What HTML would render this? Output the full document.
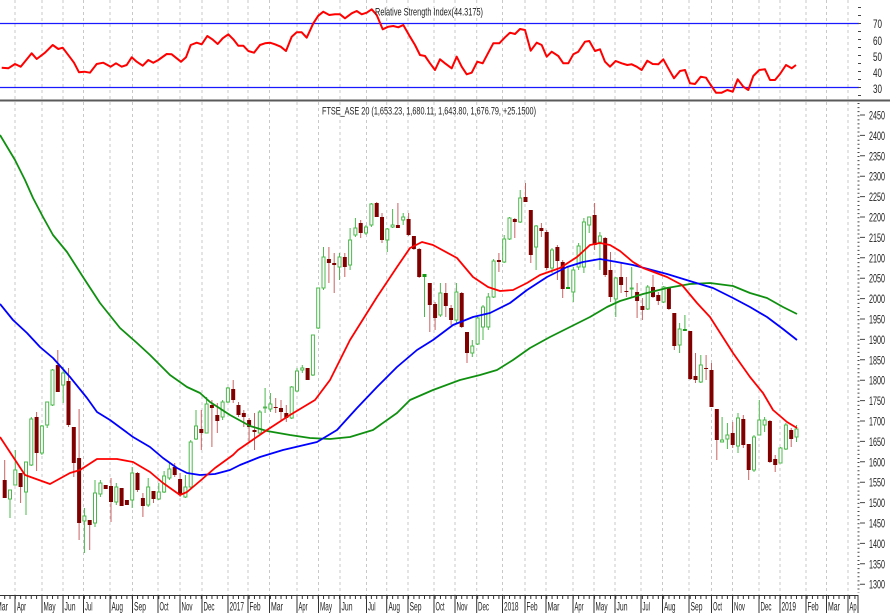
<!DOCTYPE html>
<html><head><meta charset="utf-8"><style>
html,body{margin:0;padding:0;background:#fff;}
svg{display:block;}
text{font-family:"Liberation Sans",Arial,sans-serif;fill:#222;}
</style></head><body>
<svg width="890" height="614" viewBox="0 0 890 614" xmlns="http://www.w3.org/2000/svg">
<rect width="890" height="614" fill="#fff"/>
<!-- vertical dashed gridlines -->
<g stroke="#c8c8c8" stroke-width="1" stroke-dasharray="3,3">
<path d="M15,0V595M42,0V595M63,0V595M83.5,0V595M110,0V595M132.5,0V595M158,0V595M180,0V595M202,0V595M228,0V595M248,0V595M269.5,0V595M297,0V595M318.5,0V595M340,0V595M366.5,0V595M386.7,0V595M408,0V595M434,0V595M455,0V595M476.7,0V595M502.5,0V595M525,0V595M546,0V595M573,0V595M594,0V595M615,0V595M641,0V595M662.5,0V595M689,0V595M711.5,0V595M732.5,0V595M759,0V595M780,0V595M806,0V595M826.5,0V595M848,0V595"/>
</g>
<!-- RSI panel -->
<path d="M0,23.5H859M0,87.5H859" stroke="#1a1aff" stroke-width="1.3" fill="none"/>
<polyline fill="none" stroke="#ff0000" stroke-width="2" stroke-linejoin="round" points="1.7,67.7 8.3,68.3 15,64 20.7,66.7 31.7,53.3 36.7,59 45,52.7 52.7,45 58.3,49 62.7,47.7 70,57.3 74,62.7 79,72.3 84.3,71.7 90,72.7 96.7,64 103.3,62.7 110.7,66.7 116,63.3 121.7,66.7 126.7,65 131.7,57.3 136.7,61.7 142.7,65.7 148.3,60 153.3,62.7 158.3,60 166.7,54 171.7,54.3 176.7,58.3 181,61.7 186,57.3 190.7,45 196.7,42.7 201.7,44.3 207.3,36 212.3,39.3 217.7,44 222.7,38.3 228.3,34.3 233.3,39.3 238.3,45.7 243.3,45.7 248.3,51 254,52.7 260,45 265,43.3 270,42.7 275,44.3 280.7,46.7 286,51 291.7,36.7 296.7,32.3 301.7,32.3 306.7,37.7 313.3,23.3 318.3,15.7 323.3,11.7 329.3,15 335,14.3 340,14.3 345,18.3 351.7,13.3 356.7,11 361.7,14.3 366.7,12.7 371.7,9.3 376.7,15 382.7,29.3 388.3,26.7 393.3,26 398.3,27.3 403.3,25 410,36.7 415,45 420,55 425,56 430,63.3 435,70 440,59.3 445,63.3 451.7,68.3 456.7,56.7 461.7,66.7 466.7,74.3 471.7,72.7 477.3,61.7 482.7,63.3 488.3,52.7 493.3,43.3 499.3,43.3 505,37.3 510,32.7 515,34 520,29 525,30 530.7,50.7 536.7,42.7 541.7,45 546.7,56.7 551.7,51.7 558.3,56 563.3,63.3 568.3,63.3 573.3,54.3 578.3,51.7 585,41.7 589.3,41 595,51 600,49.3 605,61.7 610,66.7 615.7,61 621.7,63.3 627.3,65 631.7,64.3 636.7,66.7 641.7,70 647.3,60.7 652.7,64 658.3,64.3 663.3,59.3 668.3,68.3 674,78.3 680,71 685,70 690,83.3 695,84 700.7,76.7 706,77.7 710.7,85 716,92.7 721.7,92.7 727.3,90 732.7,91.7 737.7,79.3 743.3,86.7 748.3,90 753.3,76 759.3,70 765,69.3 770,80 775,80 780,74 786,65 791.7,68.3 796,65"/>
<text x="375" y="15.5" font-size="11" textLength="108" lengthAdjust="spacingAndGlyphs">Relative Strength Index(44.3175)</text>
<!-- RSI axis -->
<path d="M859.5,7V97" stroke="#444" stroke-width="3" stroke-dasharray="1,7" fill="none"/>
<g font-size="12">
<text x="873" y="28.2" textLength="9" lengthAdjust="spacingAndGlyphs">70</text>
<text x="873" y="45.2" textLength="9" lengthAdjust="spacingAndGlyphs">60</text>
<text x="873" y="61.2" textLength="9" lengthAdjust="spacingAndGlyphs">50</text>
<text x="873" y="77.2" textLength="9" lengthAdjust="spacingAndGlyphs">40</text>
<text x="873" y="93.2" textLength="9" lengthAdjust="spacingAndGlyphs">30</text>
</g>
<!-- separator -->
<path d="M0,100.5H890" stroke="#5a5a5a" stroke-width="2"/>
<text x="322" y="114.5" font-size="11" textLength="214" lengthAdjust="spacingAndGlyphs">FTSE_ASE 20 (1,653.23, 1,680.11, 1,643.80, 1,676.79, +25.1500)</text>
<!-- candles -->
<path fill="none" stroke="#c86464" stroke-width="1" d="M4.7,460V498M20.6,473V503M36.6,412V471M57.8,350V392M68.5,368V427M73.8,427V477M79.1,409V540M89.7,520V550M105.7,485V489M111,478V522M121.6,488V506M126.9,500V505M137.5,472V492M142.9,493V517M153.5,491V503M174.7,463V477M180.1,473V497M201.3,410V450M211.9,400V447M217.3,403V433M233.2,380V403M238.5,402V417M243.8,410V427M249.1,418V443M254.5,413V450M275.7,398V413M281,400V420M286.3,405V422M307.6,368V380M328.9,247V283M334.2,253V293M344.8,253V277M360.7,220V238M376.7,202V217M382,213V243M397.9,203V228M408.6,213V236M413.9,236V250M419.2,248V278M429.8,283V332M435.1,302V330M445.8,283V317M451.1,305V325M461.7,292V328M467,332V363M498.9,253V272M514.8,218V238M525.5,183V202M530.8,210V263M541.4,223V237M546.7,230V270M557.4,245V280M562.7,260V298M594.6,203V250M605.2,237V277M610.5,252V302M621.1,263V293M626.4,277V297M637.1,283V318M642.4,298V320M653,275V298M658.3,292V305M668.9,287V310M674.3,313V350M690.2,331V380M695.5,353V383M706.1,355V380M711.5,363V407M716.8,409V460M732.7,422V448M743.3,415V448M748.7,444V480M769.9,420V463M775.2,455V472M791.2,428V447"/>
<path fill="none" stroke="#4cb84c" stroke-width="1" d="M10,490V518M15.3,450V485M26,462V515M31.3,417V466M41.9,425V455M47.2,402V428M52.5,369V406M63.2,367V403M84.4,508V553M95,480V527M100.4,480V497M116.3,483V505M132.2,467V508M148.2,478V507M158.8,483V500M164.1,471V493M169.4,463V480M185.4,475V498M190.7,440V488M196,410V440M206.6,397V433M222.6,400V420M227.9,387V403M259.8,410V434M265.1,388V413M270.4,393V412M291.7,386V419M297,368V392M302.3,365V373M312.9,335V376M318.2,288V329M323.5,247V290M339.5,253V280M350.1,228V270M355.4,218V237M366,225V235M371.4,203V227M387.3,228V252M392.6,209V228M403.2,213V225M424.5,274V317M440.4,283V317M456.4,283V323M472.3,340V357M477.6,317V345M483,305V340M488.3,293V330M493.6,259V298M504.2,235V263M509.5,217V240M520.2,190V223M536.1,225V270M552,248V273M568,267V289M573.3,267V302M578.6,243V270M583.9,218V273M589.2,217V233M599.9,232V270M615.8,277V317M631.7,267V298M647.7,285V310M663.6,286V303M679.6,323V353M684.9,315V331M700.8,355V383M722.1,417V442M727.4,423V449M738,413V453M754,435V472M759.3,400V435M764.6,417V432M780.5,447V463M785.9,423V450M796.5,425V442"/>
<path fill="#800000" d="M2.7,480h4V498h-4zM18.6,473h4V487h-4zM34.6,417h4V453h-4zM55.8,365h4V392h-4zM66.5,381h4V425h-4zM71.8,427h4V463h-4zM77.1,458h4V523h-4zM87.7,520h4V525h-4zM103.7,485h4V489h-4zM109,486h4V502h-4zM119.6,488h4V506h-4zM124.9,500h4V505h-4zM135.5,473h4V490h-4zM140.9,498h4V506h-4zM151.5,491h4V499h-4zM172.7,467h4V475h-4zM178.1,479h4V495h-4zM199.3,429h4V433h-4zM209.9,405h4V408h-4zM215.3,415h4V421h-4zM231.2,389h4V400h-4zM236.5,405h4V415h-4zM241.8,413h4V417h-4zM247.1,420h4V427h-4zM252.5,430h4V432h-4zM273.7,407h4V408h-4zM279,408h4V412h-4zM284.3,413h4V418h-4zM305.6,368h4V380h-4zM326.9,259h4V263h-4zM332.2,263h4V265h-4zM342.8,257h4V267h-4zM358.7,223h4V233h-4zM374.7,203h4V217h-4zM380,217h4V240h-4zM395.9,225h4V228h-4zM406.6,219h4V235h-4zM411.9,236h4V249h-4zM417.2,249h4V277h-4zM427.8,283h4V305h-4zM433.1,304h4V318h-4zM443.8,293h4V306h-4zM449.1,308h4V320h-4zM459.7,293h4V327h-4zM465,332h4V353h-4zM496.9,260h4V262h-4zM512.8,219h4V222h-4zM523.5,197h4V202h-4zM528.8,210h4V255h-4zM539.4,228h4V231h-4zM544.7,232h4V268h-4zM555.4,247h4V261h-4zM560.7,262h4V289h-4zM592.6,215h4V245h-4zM603.2,238h4V275h-4zM608.5,270h4V297h-4zM619.1,277h4V285h-4zM624.4,291h4V292h-4zM635.1,292h4V301h-4zM640.4,306h4V310h-4zM651,287h4V297h-4zM656.3,295h4V301h-4zM666.9,287h4V309h-4zM672.3,313h4V346h-4zM688.2,331h4V379h-4zM693.5,376h4V380h-4zM704.1,368h4V369h-4zM709.5,370h4V407h-4zM714.8,409h4V440h-4zM730.7,433h4V445h-4zM741.3,419h4V445h-4zM746.7,444h4V470h-4zM767.9,421h4V462h-4zM773.2,459h4V465h-4zM789.2,430h4V439h-4z"/>
<path fill="#fff" stroke="#4cb84c" stroke-width="1" d="M8.5,490h3V499h-3zM13.8,470h3V485h-3zM24.5,462h3V492h-3zM29.8,419h3V465h-3zM40.4,426h3V453h-3zM45.7,402h3V425h-3zM51,370h3V405h-3zM61.7,373h3V385h-3zM82.9,516h3V521h-3zM93.5,493h3V523h-3zM98.9,483h3V494h-3zM114.8,487h3V502h-3zM130.7,473h3V500h-3zM146.7,487h3V505h-3zM157.3,492h3V499h-3zM162.6,476h3V492h-3zM167.9,469h3V478h-3zM183.9,487h3V497h-3zM189.2,442h3V487h-3zM194.5,426h3V439h-3zM205.1,404h3V433h-3zM221.1,402h3V417h-3zM226.4,388h3V402h-3zM258.3,412h3V433h-3zM263.6,407h3V408h-3zM268.9,404h3V409h-3zM290.2,387h3V418h-3zM295.5,371h3V391h-3zM300.8,368h3V370h-3zM311.4,335h3V375h-3zM316.7,288h3V328h-3zM322,257h3V288h-3zM338,257h3V267h-3zM348.6,240h3V265h-3zM353.9,228h3V235h-3zM364.5,227h3V233h-3zM369.9,204h3V225h-3zM385.8,229h3V240h-3zM391.1,225h3V227h-3zM401.7,217h3V220h-3zM438.9,293h3V315h-3zM454.9,292h3V320h-3zM470.8,346h3V353h-3zM476.1,318h3V344h-3zM481.5,307h3V327h-3zM486.8,297h3V327h-3zM492.1,261h3V297h-3zM502.7,239h3V262h-3zM508,218h3V239h-3zM518.7,198h3V222h-3zM534.6,226h3V247h-3zM550.5,250h3V268h-3zM571.8,270h3V292h-3zM577.1,246h3V267h-3zM582.4,222h3V267h-3zM587.7,217h3V225h-3zM598.4,236h3V242h-3zM614.3,278h3V299h-3zM630.2,288h3V289h-3zM646.2,287h3V309h-3zM662.1,287h3V302h-3zM678.1,329h3V345h-3zM699.3,365h3V382h-3zM720.6,440h3V442h-3zM725.9,435h3V439h-3zM736.5,418h3V446h-3zM752.5,437h3V470h-3zM757.8,420h3V435h-3zM763.1,420h3V425h-3zM779,448h3V463h-3zM784.4,425h3V449h-3zM795,429h3V437h-3z"/>
<path fill="#129a12" d="M422.5,274h4V277h-4zM566,287h4V289h-4zM682.9,329h4V331h-4z"/>
<!-- moving averages -->
<polyline fill="none" stroke="#109010" stroke-width="1.8" stroke-linejoin="round" points="0,135 15,160 25,180 33,198 43,217 53,235 67,252 83,277 100,303 120,328 137,343 150,355 170,375 187,387 200,393 210,402 230,415 250,426 267,431 290,435 310,438 330,439 350,437 373,430 397,413 410,400 433,390 460,380 480,375 497,370 513,360 530,348 550,337 570,327 590,317 607,307 620,301 643,294 667,288 690,284 710,283 733,286 750,293 767,298 783,307 797,314"/>
<polyline fill="none" stroke="#0000ff" stroke-width="1.8" stroke-linejoin="round" points="0,304 13,320 27,333 40,347 53,358 70,377 87,398 97,412 110,420 133,437 150,447 163,458 177,468 187,473 200,475 215,474 230,470 240,465 260,457 283,450 317,442 337,430 357,408 377,387 397,367 417,350 433,340 453,325 473,317 490,313 510,303 527,290 547,277 567,267 583,262 600,259 617,262 633,265 667,274 693,282 713,288 733,298 750,307 767,317 783,329 797,340"/>
<polyline fill="none" stroke="#ff0000" stroke-width="1.8" stroke-linejoin="round" points="0,437 25,475 50,484 70,473 80,470 97,459 117,459 133,462 150,472 163,483 180,495 187,492 200,481 215,468 233,455 238,450 267,430 290,415 315,400 330,380 350,340 377,297 397,267 410,248 422,242 433,245 457,258 473,277 488,287 500,291 513,290 527,283 540,275 560,268 577,257 590,245 600,243 610,245 620,251 633,262 643,268 667,277 682,285 697,303 710,317 733,353 750,377 763,393 773,410 787,422 797,428"/>
<!-- price axis -->
<path d="M858.5,103V593" stroke="#444" stroke-width="2" stroke-dasharray="1,3.08" fill="none"/>
<path stroke="#444" stroke-width="1" d="M860,115H865M860,135.4H865M860,155.8H865M860,176.2H865M860,196.6H865M860,217H865M860,237.4H865M860,257.8H865M860,278.2H865M860,298.6H865M860,319H865M860,339.4H865M860,359.8H865M860,380.2H865M860,400.6H865M860,421H865M860,441.4H865M860,461.8H865M860,482.2H865M860,502.6H865M860,523H865M860,543.4H865M860,563.8H865M860,584.2H865"/>
<g font-size="12">
<text x="869" y="119.5" textLength="16" lengthAdjust="spacingAndGlyphs">2450</text>
<text x="869" y="139.9" textLength="16" lengthAdjust="spacingAndGlyphs">2400</text>
<text x="869" y="160.3" textLength="16" lengthAdjust="spacingAndGlyphs">2350</text>
<text x="869" y="180.7" textLength="16" lengthAdjust="spacingAndGlyphs">2300</text>
<text x="869" y="201.1" textLength="16" lengthAdjust="spacingAndGlyphs">2250</text>
<text x="869" y="221.5" textLength="16" lengthAdjust="spacingAndGlyphs">2200</text>
<text x="869" y="241.9" textLength="16" lengthAdjust="spacingAndGlyphs">2150</text>
<text x="869" y="262.3" textLength="16" lengthAdjust="spacingAndGlyphs">2100</text>
<text x="869" y="282.7" textLength="16" lengthAdjust="spacingAndGlyphs">2050</text>
<text x="869" y="303.1" textLength="16" lengthAdjust="spacingAndGlyphs">2000</text>
<text x="869" y="323.5" textLength="16" lengthAdjust="spacingAndGlyphs">1950</text>
<text x="869" y="343.9" textLength="16" lengthAdjust="spacingAndGlyphs">1900</text>
<text x="869" y="364.3" textLength="16" lengthAdjust="spacingAndGlyphs">1850</text>
<text x="869" y="384.7" textLength="16" lengthAdjust="spacingAndGlyphs">1800</text>
<text x="869" y="405.1" textLength="16" lengthAdjust="spacingAndGlyphs">1750</text>
<text x="869" y="425.5" textLength="16" lengthAdjust="spacingAndGlyphs">1700</text>
<text x="869" y="445.9" textLength="16" lengthAdjust="spacingAndGlyphs">1650</text>
<text x="869" y="466.3" textLength="16" lengthAdjust="spacingAndGlyphs">1600</text>
<text x="869" y="486.7" textLength="16" lengthAdjust="spacingAndGlyphs">1550</text>
<text x="869" y="507.1" textLength="16" lengthAdjust="spacingAndGlyphs">1500</text>
<text x="869" y="527.5" textLength="16" lengthAdjust="spacingAndGlyphs">1450</text>
<text x="869" y="547.9" textLength="16" lengthAdjust="spacingAndGlyphs">1400</text>
<text x="869" y="568.3" textLength="16" lengthAdjust="spacingAndGlyphs">1350</text>
<text x="869" y="588.7" textLength="16" lengthAdjust="spacingAndGlyphs">1300</text>
</g>
<!-- time axis -->
<path d="M0,595.5H858" stroke="#333" stroke-width="1"/>
<path d="M4.2,597.5H858" stroke="#333" stroke-width="3" stroke-dasharray="1,4.314" fill="none"/>
<path stroke="#333" stroke-width="1" d="M15,595V613M42,595V613M63,595V613M83.5,595V613M110,595V613M132.5,595V613M158,595V613M180,595V613M202,595V613M228,595V613M248,595V613M269.5,595V613M297,595V613M318.5,595V613M340,595V613M366.5,595V613M386.7,595V613M408,595V613M434,595V613M455,595V613M476.7,595V613M502.5,595V613M525,595V613M546,595V613M573,595V613M594,595V613M615,595V613M641,595V613M662.5,595V613M689,595V613M711.5,595V613M732.5,595V613M759,595V613M780,595V613M806,595V613M826.5,595V613M848,595V613M858,595V613"/>
<g font-size="12">
<text x="-4" y="610.5" textLength="12" lengthAdjust="spacingAndGlyphs">Mar</text>
<text x="17" y="610.5" textLength="9" lengthAdjust="spacingAndGlyphs">Apr</text>
<text x="43.5" y="610.5" textLength="12" lengthAdjust="spacingAndGlyphs">May</text>
<text x="64.5" y="610.5" textLength="11" lengthAdjust="spacingAndGlyphs">Jun</text>
<text x="85" y="610.5" textLength="7.5" lengthAdjust="spacingAndGlyphs">Jul</text>
<text x="111.5" y="610.5" textLength="11.5" lengthAdjust="spacingAndGlyphs">Aug</text>
<text x="134" y="610.5" textLength="12" lengthAdjust="spacingAndGlyphs">Sep</text>
<text x="159.5" y="610.5" textLength="9" lengthAdjust="spacingAndGlyphs">Oct</text>
<text x="181.5" y="610.5" textLength="11" lengthAdjust="spacingAndGlyphs">Nov</text>
<text x="203.5" y="610.5" textLength="11" lengthAdjust="spacingAndGlyphs">Dec</text>
<text x="229.5" y="610.5" textLength="14.5" lengthAdjust="spacingAndGlyphs">2017</text>
<text x="249.5" y="610.5" textLength="11" lengthAdjust="spacingAndGlyphs">Feb</text>
<text x="271" y="610.5" textLength="12" lengthAdjust="spacingAndGlyphs">Mar</text>
<text x="298.5" y="610.5" textLength="9" lengthAdjust="spacingAndGlyphs">Apr</text>
<text x="320" y="610.5" textLength="12" lengthAdjust="spacingAndGlyphs">May</text>
<text x="341.5" y="610.5" textLength="11" lengthAdjust="spacingAndGlyphs">Jun</text>
<text x="368" y="610.5" textLength="7.5" lengthAdjust="spacingAndGlyphs">Jul</text>
<text x="388.5" y="610.5" textLength="11.5" lengthAdjust="spacingAndGlyphs">Aug</text>
<text x="409.5" y="610.5" textLength="12" lengthAdjust="spacingAndGlyphs">Sep</text>
<text x="435.5" y="610.5" textLength="9" lengthAdjust="spacingAndGlyphs">Oct</text>
<text x="456.5" y="610.5" textLength="11" lengthAdjust="spacingAndGlyphs">Nov</text>
<text x="478" y="610.5" textLength="11" lengthAdjust="spacingAndGlyphs">Dec</text>
<text x="504" y="610.5" textLength="14.5" lengthAdjust="spacingAndGlyphs">2018</text>
<text x="526.5" y="610.5" textLength="11" lengthAdjust="spacingAndGlyphs">Feb</text>
<text x="547.5" y="610.5" textLength="12" lengthAdjust="spacingAndGlyphs">Mar</text>
<text x="574.5" y="610.5" textLength="9" lengthAdjust="spacingAndGlyphs">Apr</text>
<text x="595.5" y="610.5" textLength="12" lengthAdjust="spacingAndGlyphs">May</text>
<text x="616.5" y="610.5" textLength="11" lengthAdjust="spacingAndGlyphs">Jun</text>
<text x="642.5" y="610.5" textLength="7.5" lengthAdjust="spacingAndGlyphs">Jul</text>
<text x="664" y="610.5" textLength="11.5" lengthAdjust="spacingAndGlyphs">Aug</text>
<text x="690.5" y="610.5" textLength="12" lengthAdjust="spacingAndGlyphs">Sep</text>
<text x="713" y="610.5" textLength="9" lengthAdjust="spacingAndGlyphs">Oct</text>
<text x="734" y="610.5" textLength="11" lengthAdjust="spacingAndGlyphs">Nov</text>
<text x="760.5" y="610.5" textLength="11" lengthAdjust="spacingAndGlyphs">Dec</text>
<text x="781.5" y="610.5" textLength="14.5" lengthAdjust="spacingAndGlyphs">2019</text>
<text x="807.5" y="610.5" textLength="11" lengthAdjust="spacingAndGlyphs">Feb</text>
<text x="828" y="610.5" textLength="12" lengthAdjust="spacingAndGlyphs">Mar</text>
<text x="849.5" y="610.5" textLength="7" lengthAdjust="spacingAndGlyphs">Ap</text>
</g>
</svg>
</body></html>
